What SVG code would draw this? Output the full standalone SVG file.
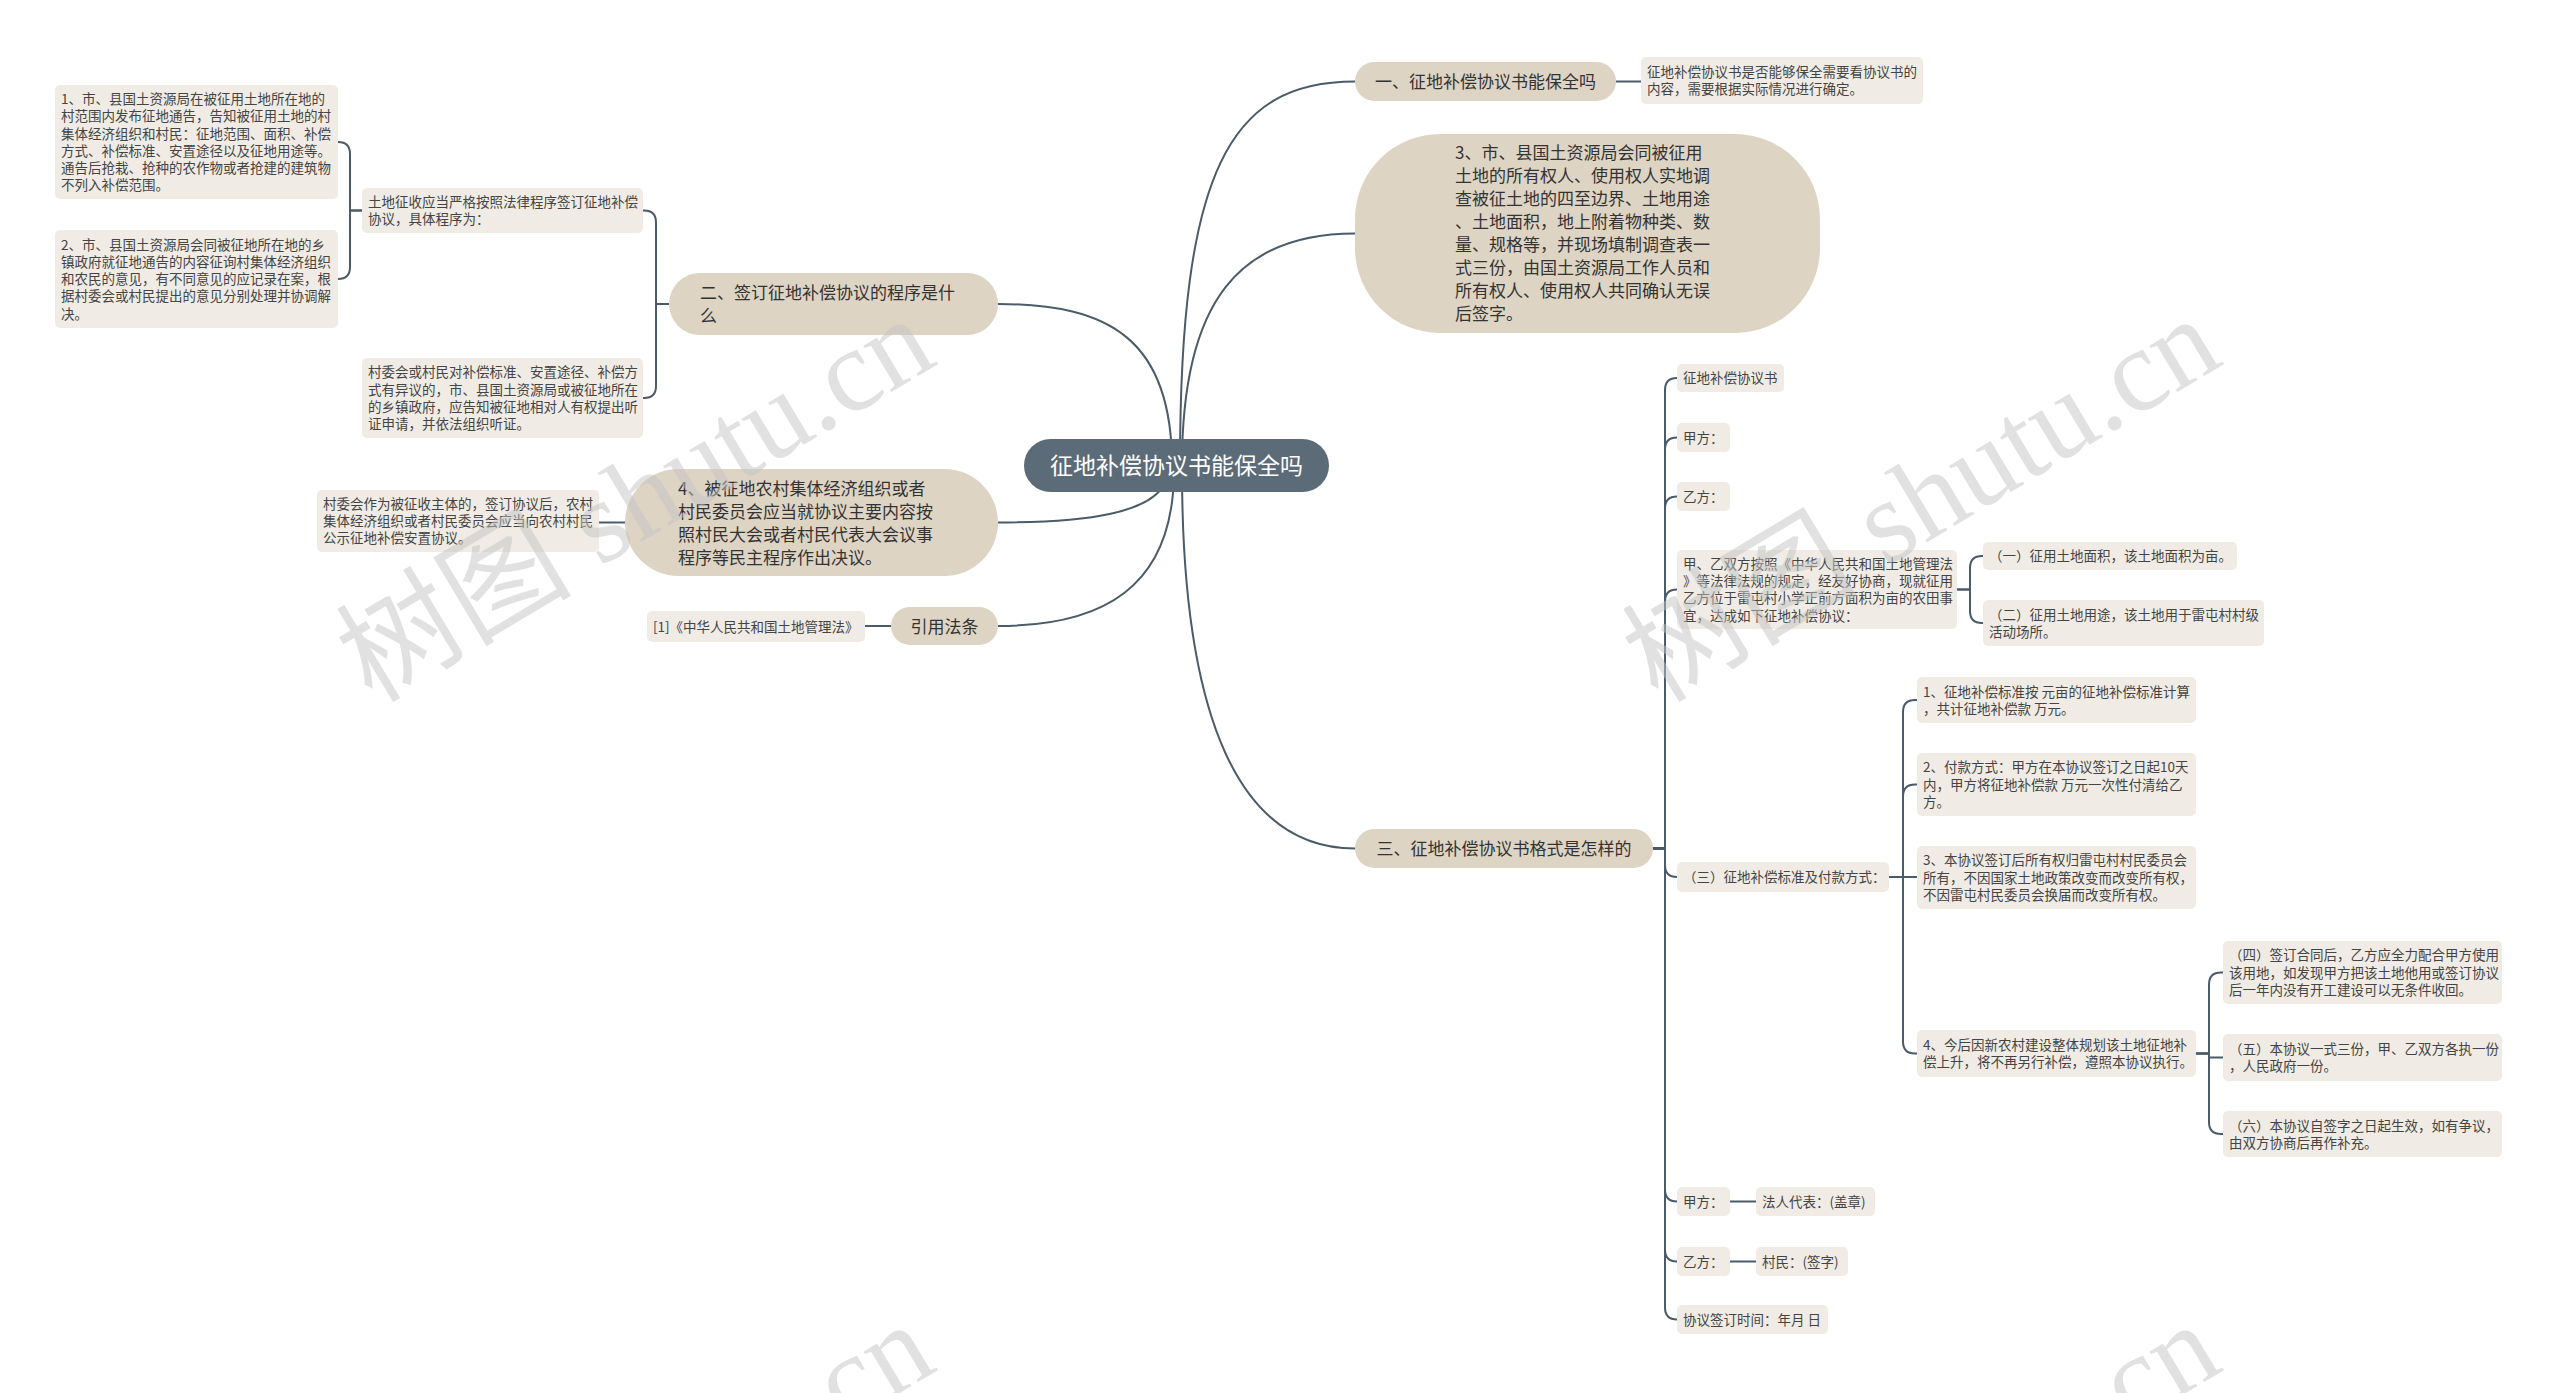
<svg xmlns="http://www.w3.org/2000/svg" width="2560" height="1393" viewBox="0 0 2560 1393">
<style>
text{font-family:"Noto Sans CJK SC","Noto Sans",sans-serif}
.ln{fill:none;stroke:#4b5b68;stroke-width:2}
.n1{fill:#ded4c4}
.lf{fill:#f0ece5}
.t1{font-size:17px;fill:#333}
.tl{font-size:13.5px;fill:#444}
.tc{font-size:23px;fill:#fff}
.mid{text-anchor:middle}
.wm{font-family:"Liberation Serif","Noto Sans CJK SC",serif;font-size:118px;fill:#c4c4c4;opacity:0.5}
</style>
<rect width="2560" height="1393" fill="#fff"/>
<g id="connectors">
<path class="ln" d="M1180 465 C1180 170 1230 81.5 1355 81.5"/>
<path class="ln" d="M1182 465 C1182 300 1240 233.5 1355 233.5"/>
<path class="ln" d="M1182 470 C1182 720 1240 848.5 1355 848.5"/>
<path class="ln" d="M1172 465 C1172 340 1110 304 998 304"/>
<path class="ln" d="M1168 475 C1160 515 1080 522.5 998 522.5"/>
<path class="ln" d="M1174 470 C1174 590 1100 626 998 626"/>
<path class="ln" d="M1616 81.5 H1641"/>
<path class="ln" d="M625 522.5 H599"/>
<path class="ln" d="M891 626 H865"/>
<path class="ln" d="M669 304 H656 V222.5 Q656 210.5 644 210.5 H643"/>
<path class="ln" d="M669 304 H656 V386 Q656 398 644 398 H643"/>
<path class="ln" d="M362 210.5 H350 V154 Q350 142 338 142"/>
<path class="ln" d="M362 210.5 H350 V267 Q350 279 338 279"/>
<path class="ln" d="M1653 848.5 H1665 V390 Q1665 378 1677 378"/>
<path class="ln" d="M1653 848.5 H1665 V449.5 Q1665 437.5 1677 437.5"/>
<path class="ln" d="M1653 848.5 H1665 V508.5 Q1665 496.5 1677 496.5"/>
<path class="ln" d="M1653 848.5 H1665 V601.5 Q1665 589.5 1677 589.5"/>
<path class="ln" d="M1653 848.5 H1665 V865 Q1665 877 1677 877"/>
<path class="ln" d="M1653 848.5 H1665 V1189.5 Q1665 1201.5 1677 1201.5"/>
<path class="ln" d="M1653 848.5 H1665 V1249.5 Q1665 1261.5 1677 1261.5"/>
<path class="ln" d="M1653 848.5 H1665 V1307.5 Q1665 1319.5 1677 1319.5"/>
<path class="ln" d="M1957 589.5 H1970 V568 Q1970 556 1982 556 H1983"/>
<path class="ln" d="M1957 589.5 H1970 V611 Q1970 623 1982 623 H1983"/>
<path class="ln" d="M1889 877 H1903 V712 Q1903 700 1915 700 H1917"/>
<path class="ln" d="M1889 877 H1903 V796.5 Q1903 784.5 1915 784.5 H1917"/>
<path class="ln" d="M1889 877 H1917"/>
<path class="ln" d="M1889 877 H1903 V1041.5 Q1903 1053.5 1915 1053.5 H1917"/>
<path class="ln" d="M2196 1053.5 H2209 V984.5 Q2209 972.5 2221 972.5 H2223"/>
<path class="ln" d="M2196 1053.5 H2209 V1057.5 H2223"/>
<path class="ln" d="M2196 1053.5 H2209 V1122 Q2209 1134 2221 1134 H2223"/>
<path class="ln" d="M1730 1201.5 H1756"/>
<path class="ln" d="M1730 1261.5 H1756"/>
</g>
<g id="center">
<rect x="1024" y="439" width="305" height="53" rx="26.5" fill="#5b6b77"/>
<text class="tc mid" x="1176.5" y="474">征地补偿协议书能保全吗</text>
</g>
<g id="n-1">
<rect class="n1" x="1355" y="62" width="261" height="39" rx="19.5"/>
<text class="t1 mid" x="1485.5" y="88">一、征地补偿协议书能保全吗</text>
</g>
<g id="n-1a">
<rect class="lf" x="1641" y="57" width="282" height="47" rx="5"/>
<text class="tl" x="1647" y="77"><tspan x="1647">征地补偿协议书是否能够保全需要看协议书的</tspan><tspan x="1647" dy="17.3">内容，需要根据实际情况进行确定。</tspan></text>
</g>
<g id="n-3step">
<rect class="n1" x="1355" y="134" width="465" height="199" rx="85"/>
<text class="t1" x="1455" y="158.5"><tspan x="1455">3、市、县国土资源局会同被征用</tspan><tspan x="1455" dy="23">土地的所有权人、使用权人实地调</tspan><tspan x="1455" dy="23">查被征土地的四至边界、土地用途</tspan><tspan x="1455" dy="23">、土地面积，地上附着物种类、数</tspan><tspan x="1455" dy="23">量、规格等，并现场填制调查表一</tspan><tspan x="1455" dy="23">式三份，由国土资源局工作人员和</tspan><tspan x="1455" dy="23">所有权人、使用权人共同确认无误</tspan><tspan x="1455" dy="23">后签字。</tspan></text>
</g>
<g id="n-3">
<rect class="n1" x="1355" y="829" width="298" height="39" rx="19.5"/>
<text class="t1 mid" x="1504" y="855">三、征地补偿协议书格式是怎样的</text>
</g>
<g id="n-2">
<rect class="n1" x="669" y="273" width="329" height="62" rx="31"/>
<text class="t1" x="700" y="299"><tspan x="700">二、签订征地补偿协议的程序是什</tspan><tspan x="700" dy="23">么</tspan></text>
</g>
<g id="n-4">
<rect class="n1" x="625" y="469" width="373" height="107" rx="53.5"/>
<text class="t1" x="678" y="494.5"><tspan x="678">4、被征地农村集体经济组织或者</tspan><tspan x="678" dy="23">村民委员会应当就协议主要内容按</tspan><tspan x="678" dy="23">照村民大会或者村民代表大会议事</tspan><tspan x="678" dy="23">程序等民主程序作出决议。</tspan></text>
</g>
<g id="n-law">
<rect class="n1" x="891" y="607" width="107" height="38" rx="19"/>
<text class="t1 mid" x="944.5" y="632.5">引用法条</text>
</g>
<g id="n-law-a">
<rect class="lf" x="647" y="611" width="218" height="31" rx="5"/>
<text class="tl" x="653" y="631.6">[1]《中华人民共和国土地管理法》</text>
</g>
<g id="n-4a">
<rect class="lf" x="317" y="490" width="282" height="62" rx="5"/>
<text class="tl" x="323" y="508.8"><tspan x="323">村委会作为被征收主体的，签订协议后，农村</tspan><tspan x="323" dy="17.3">集体经济组织或者村民委员会应当向农村村民</tspan><tspan x="323" dy="17.3">公示征地补偿安置协议。</tspan></text>
</g>
<g id="n-2a">
<rect class="lf" x="362" y="188" width="281" height="45" rx="5"/>
<text class="tl" x="368" y="207"><tspan x="368">土地征收应当严格按照法律程序签订征地补偿</tspan><tspan x="368" dy="17.3">协议，具体程序为：</tspan></text>
</g>
<g id="n-2a1">
<rect class="lf" x="55" y="85" width="283" height="114" rx="5"/>
<text class="tl" x="61" y="103.9"><tspan x="61">1、市、县国土资源局在被征用土地所在地的</tspan><tspan x="61" dy="17.3">村范围内发布征地通告，告知被征用土地的村</tspan><tspan x="61" dy="17.3">集体经济组织和村民：征地范围、面积、补偿</tspan><tspan x="61" dy="17.3">方式、补偿标准、安置途径以及征地用途等。</tspan><tspan x="61" dy="17.3">通告后抢栽、抢种的农作物或者抢建的建筑物</tspan><tspan x="61" dy="17.3">不列入补偿范围。</tspan></text>
</g>
<g id="n-2a2">
<rect class="lf" x="55" y="230" width="283" height="98" rx="5"/>
<text class="tl" x="61" y="249.5"><tspan x="61">2、市、县国土资源局会同被征地所在地的乡</tspan><tspan x="61" dy="17.3">镇政府就征地通告的内容征询村集体经济组织</tspan><tspan x="61" dy="17.3">和农民的意见，有不同意见的应记录在案，根</tspan><tspan x="61" dy="17.3">据村委会或村民提出的意见分别处理并协调解</tspan><tspan x="61" dy="17.3">决。</tspan></text>
</g>
<g id="n-2b">
<rect class="lf" x="362" y="358" width="281" height="80" rx="5"/>
<text class="tl" x="368" y="377.2"><tspan x="368">村委会或村民对补偿标准、安置途径、补偿方</tspan><tspan x="368" dy="17.3">式有异议的，市、县国土资源局或被征地所在</tspan><tspan x="368" dy="17.3">的乡镇政府，应告知被征地相对人有权提出听</tspan><tspan x="368" dy="17.3">证申请，并依法组织听证。</tspan></text>
</g>
<g id="n-3a">
<rect class="lf" x="1677" y="364" width="107" height="28" rx="5"/>
<text class="tl" x="1683" y="383.1">征地补偿协议书</text>
</g>
<g id="n-3b">
<rect class="lf" x="1677" y="423" width="53" height="29" rx="5"/>
<text class="tl" x="1683" y="442.6">甲方：</text>
</g>
<g id="n-3c">
<rect class="lf" x="1677" y="482" width="53" height="29" rx="5"/>
<text class="tl" x="1683" y="501.6">乙方：</text>
</g>
<g id="n-3d">
<rect class="lf" x="1677" y="550" width="280" height="79" rx="5"/>
<text class="tl" x="1683" y="568.7"><tspan x="1683">甲、乙双方按照《中华人民共和国土地管理法</tspan><tspan x="1683" dy="17.3">》等法律法规的规定，经友好协商，现就征用</tspan><tspan x="1683" dy="17.3">乙方位于雷屯村小学正前方面积为亩的农田事</tspan><tspan x="1683" dy="17.3">宜，达成如下征地补偿协议：</tspan></text>
</g>
<g id="n-3d1">
<rect class="lf" x="1983" y="542" width="254" height="28" rx="5"/>
<text class="tl" x="1989" y="561.1">（一）征用土地面积，该土地面积为亩。</text>
</g>
<g id="n-3d2">
<rect class="lf" x="1983" y="600" width="281" height="46" rx="5"/>
<text class="tl" x="1989" y="619.5"><tspan x="1989">（二）征用土地用途，该土地用于雷屯村村级</tspan><tspan x="1989" dy="17.3">活动场所。</tspan></text>
</g>
<g id="n-3e">
<rect class="lf" x="1677" y="862" width="212" height="30" rx="5"/>
<text class="tl" x="1683" y="882.1">（三）征地补偿标准及付款方式：</text>
</g>
<g id="n-3e1">
<rect class="lf" x="1917" y="677" width="279" height="46" rx="5"/>
<text class="tl" x="1923" y="696.5"><tspan x="1923">1、征地补偿标准按 元亩的征地补偿标准计算</tspan><tspan x="1923" dy="17.3">，共计征地补偿款 万元。</tspan></text>
</g>
<g id="n-3e2">
<rect class="lf" x="1917" y="753" width="279" height="63" rx="5"/>
<text class="tl" x="1923" y="772.3"><tspan x="1923">2、付款方式：甲方在本协议签订之日起10天</tspan><tspan x="1923" dy="17.3">内，甲方将征地补偿款 万元一次性付清给乙</tspan><tspan x="1923" dy="17.3">方。</tspan></text>
</g>
<g id="n-3e3">
<rect class="lf" x="1917" y="846" width="279" height="63" rx="5"/>
<text class="tl" x="1923" y="865.3"><tspan x="1923">3、本协议签订后所有权归雷屯村村民委员会</tspan><tspan x="1923" dy="17.3">所有，不因国家土地政策改变而改变所有权，</tspan><tspan x="1923" dy="17.3">不因雷屯村民委员会换届而改变所有权。</tspan></text>
</g>
<g id="n-3e4">
<rect class="lf" x="1917" y="1030" width="279" height="47" rx="5"/>
<text class="tl" x="1923" y="1050"><tspan x="1923">4、今后因新农村建设整体规划该土地征地补</tspan><tspan x="1923" dy="17.3">偿上升，将不再另行补偿，遵照本协议执行。</tspan></text>
</g>
<g id="n-3e4a">
<rect class="lf" x="2223" y="941" width="279" height="63" rx="5"/>
<text class="tl" x="2229" y="960.3"><tspan x="2229">（四）签订合同后，乙方应全力配合甲方使用</tspan><tspan x="2229" dy="17.3">该用地，如发现甲方把该土地他用或签订协议</tspan><tspan x="2229" dy="17.3">后一年内没有开工建设可以无条件收回。</tspan></text>
</g>
<g id="n-3e4b">
<rect class="lf" x="2223" y="1034" width="279" height="47" rx="5"/>
<text class="tl" x="2229" y="1054"><tspan x="2229">（五）本协议一式三份，甲、乙双方各执一份</tspan><tspan x="2229" dy="17.3">，人民政府一份。</tspan></text>
</g>
<g id="n-3e4c">
<rect class="lf" x="2223" y="1111" width="279" height="46" rx="5"/>
<text class="tl" x="2229" y="1130.5"><tspan x="2229">（六）本协议自签字之日起生效，如有争议，</tspan><tspan x="2229" dy="17.3">由双方协商后再作补充。</tspan></text>
</g>
<g id="n-3f">
<rect class="lf" x="1677" y="1187" width="53" height="29" rx="5"/>
<text class="tl" x="1683" y="1206.6">甲方：</text>
</g>
<g id="n-3f1">
<rect class="lf" x="1756" y="1187" width="119" height="29" rx="5"/>
<text class="tl" x="1762" y="1206.6">法人代表：(盖章)</text>
</g>
<g id="n-3g">
<rect class="lf" x="1677" y="1247" width="53" height="29" rx="5"/>
<text class="tl" x="1683" y="1266.6">乙方：</text>
</g>
<g id="n-3g1">
<rect class="lf" x="1756" y="1247" width="92" height="29" rx="5"/>
<text class="tl" x="1762" y="1266.6">村民：(签字)</text>
</g>
<g id="n-3h">
<rect class="lf" x="1677" y="1305" width="151" height="29" rx="5"/>
<text class="tl" x="1683" y="1324.6">协议签订时间：年月 日</text>
</g>
<g id="watermark">
<text class="wm" transform="translate(372 704) rotate(-31)">树图 shutu.cn</text>
<text class="wm" transform="translate(1658 704) rotate(-31)">树图 shutu.cn</text>
<text class="wm" transform="translate(372 1710) rotate(-31)">树图 shutu.cn</text>
<text class="wm" transform="translate(1658 1710) rotate(-31)">树图 shutu.cn</text>
</g>
</svg>
